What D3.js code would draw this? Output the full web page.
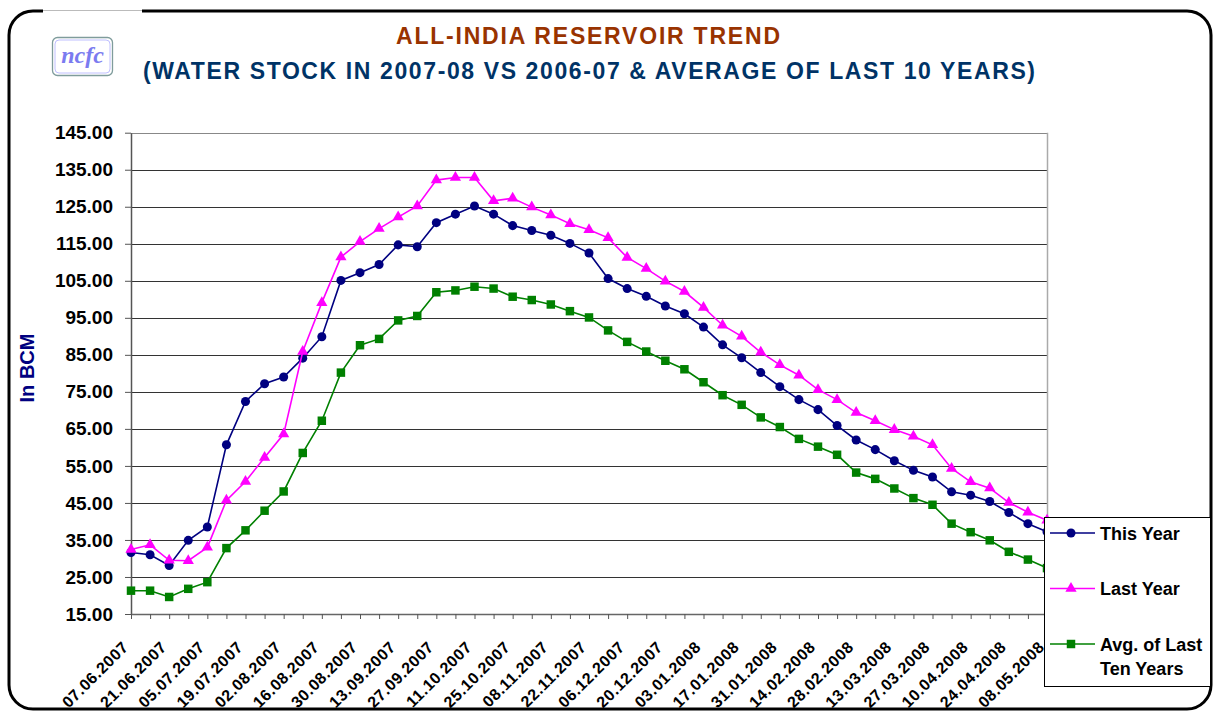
<!DOCTYPE html>
<html lang="en">
<head>
  <meta charset="utf-8">
  <title>All-India Reservoir Trend</title>
  <script type="text/javascript" src="https://cdn.jsdelivr.net/npm/d3@7"></script>
  <style>
    body { margin: 0; background: #fff; }
    svg { display: block; font-family: "Liberation Sans", Arial, sans-serif; }
  </style>
</head>
<body>
  <script type="text/javascript">

  // weekly dates (category axis)
  var dates = [
    "07.06.2007", "14.06.2007", "21.06.2007", "28.06.2007", "05.07.2007", "12.07.2007", "19.07.2007",
    "26.07.2007", "02.08.2007", "09.08.2007", "16.08.2007", "23.08.2007", "30.08.2007", "06.09.2007",
    "13.09.2007", "20.09.2007", "27.09.2007", "04.10.2007", "11.10.2007", "18.10.2007", "25.10.2007",
    "01.11.2007", "08.11.2007", "15.11.2007", "22.11.2007", "29.11.2007", "06.12.2007", "13.12.2007",
    "20.12.2007", "27.12.2007", "03.01.2008", "10.01.2008", "17.01.2008", "24.01.2008", "31.01.2008",
    "07.02.2008", "14.02.2008", "21.02.2008", "28.02.2008", "06.03.2008", "13.03.2008", "20.03.2008",
    "27.03.2008", "03.04.2008", "10.04.2008", "17.04.2008", "24.04.2008", "01.05.2008", "08.05.2008"
  ];

  // water stock in BCM
  var thisYear = [
    31.6, 31.0, 28.1, 34.9, 38.5, 60.7, 72.4, 77.2, 79.0, 84.1, 89.9, 105.1, 107.2, 109.4, 114.7, 114.2,
    120.7, 123.0, 125.2, 123.0, 119.9, 118.6, 117.3, 115.1, 112.5, 105.6, 102.9, 100.8, 98.2, 96.1,
    92.5, 87.7, 84.2, 80.2, 76.4, 72.9, 70.2, 65.9, 62.0, 59.4, 56.4, 53.8, 52.0, 48.0, 47.1, 45.4,
    42.4, 39.4, 37.2
  ];
  var lastYear = [
    32.4, 33.7, 29.5, 29.4, 33.0, 45.7, 50.8, 57.3, 63.6, 85.9, 99.1, 111.4, 115.6, 119.1, 122.2, 125.2,
    132.2, 132.9, 132.9, 126.6, 127.3, 124.9, 122.8, 120.4, 118.8, 116.6, 111.3, 108.3, 104.9, 102.1,
    97.8, 93.0, 90.0, 85.7, 82.3, 79.5, 75.6, 72.9, 69.4, 67.2, 64.8, 63.0, 60.7, 54.3, 50.7, 49.0,
    45.1, 42.5, 40.3
  ];
  var avgTenYears = [
    21.3, 21.3, 19.6, 21.8, 23.6, 32.8, 37.6, 42.9, 48.1, 58.5, 67.2, 80.2, 87.6, 89.3, 94.3, 95.5,
    101.9, 102.4, 103.4, 102.9, 100.7, 99.8, 98.6, 96.8, 95.1, 91.6, 88.5, 85.9, 83.4, 81.1,
    77.6, 74.1, 71.5, 68.1, 65.5, 62.3, 60.2, 58.0, 53.2, 51.5, 48.9, 46.3, 44.5, 39.4, 37.1, 34.9,
    31.8, 29.7, 27.4
  ];

  var yTicks = [15, 25, 35, 45, 55, 65, 75, 85, 95, 105, 115, 125, 135, 145];

  var series = [
    { name: ["This Year"], values: thisYear, color: "#000080", symbol: d3.symbolCircle, size: 64 },
    { name: ["Last Year"], values: lastYear, color: "#ff00ff", symbol: d3.symbolTriangle, size: 55 },
    { name: ["Avg. of Last", "Ten Years"], values: avgTenYears, color: "#008000", symbol: d3.symbolSquare, size: 72 }
  ];

  var width = 1219;
  var height = 711;
  var plot = { left: 131, right: 1047, top: 132.7, bottom: 614 };

  var svg = d3.select("body")
    .append("svg")
    .attr("width", width)
    .attr("height", height)
    .attr("viewBox", [0, 0, width, height]);

  // outer rounded frame
  svg.append("rect")
    .attr("x", 9).attr("y", 11)
    .attr("width", 1202).attr("height", 698)
    .attr("rx", 24)
    .attr("fill", "#fff")
    .attr("stroke", "#000")
    .attr("stroke-width", 3);

  // little gap in the top border above the logo
  svg.append("rect")
    .attr("x", 43).attr("y", 8).attr("width", 99).attr("height", 6)
    .attr("fill", "#fff");
  svg.append("line")
    .attr("x1", 43).attr("x2", 142).attr("y1", 10.5).attr("y2", 10.5)
    .attr("stroke", "#bbb");

  // logo
  svg.append("rect")
    .attr("x", 52.5).attr("y", 37.5).attr("width", 60).attr("height", 38).attr("rx", 5)
    .attr("fill", "#fff").attr("stroke", "#7f9c9c").attr("stroke-width", 1.3);
  svg.append("rect")
    .attr("x", 55).attr("y", 40).attr("width", 55).attr("height", 33).attr("rx", 4)
    .attr("fill", "none").attr("stroke", "#b0b0ff").attr("stroke-width", 0.8);
  svg.append("text")
    .attr("x", 82.5).attr("y", 63)
    .attr("text-anchor", "middle")
    .attr("font-family", "'Liberation Serif', 'DejaVu Serif', serif")
    .attr("font-style", "italic")
    .attr("font-weight", "bold")
    .attr("font-size", "24px")
    .attr("fill", "#7b7bf0")
    .text("ncfc");

  // titles
  svg.append("text")
    .attr("x", 396).attr("y", 43.5)
    .attr("font-size", "23px").attr("font-weight", "bold")
    .attr("fill", "#993300")
    .attr("textLength", 384).attr("lengthAdjust", "spacing")
    .text("ALL-INDIA RESERVOIR TREND");
  svg.append("text")
    .attr("x", 143).attr("y", 78.5)
    .attr("font-size", "23px").attr("font-weight", "bold")
    .attr("fill", "#003366")
    .attr("textLength", 892).attr("lengthAdjust", "spacing")
    .text("(WATER STOCK IN 2007-08 VS 2006-07 & AVERAGE OF LAST 10 YEARS)");

  var x = d3.scalePoint()
    .domain(dates)
    .range([plot.left, plot.right]);

  var y = d3.scaleLinear()
    .domain([15, 145])
    .range([plot.bottom, plot.top]);

  // horizontal gridlines
  svg.append("g")
    .selectAll("line")
    .data(yTicks.slice(1))
    .enter().append("line")
    .attr("x1", plot.left).attr("x2", plot.right)
    .attr("y1", d => Math.round(y(d)) + 0.5)
    .attr("y2", d => Math.round(y(d)) + 0.5)
    .attr("stroke", d => d == 145 ? "#888" : "#333")
    .attr("stroke-width", 1);

  // right edge of plot area
  svg.append("line")
    .attr("x1", plot.right + 0.5).attr("x2", plot.right + 0.5)
    .attr("y1", plot.top).attr("y2", plot.bottom)
    .attr("stroke", "#aaa").attr("stroke-width", 1.5);

  // y axis
  var yAxis = svg.append("g")
    .attr("transform", "translate(" + plot.left + ",0)")
    .call(d3.axisLeft(y)
      .tickValues(yTicks)
      .tickFormat(d3.format(".2f"))
      .tickSize(6)
      .tickSizeOuter(0)
      .tickPadding(12));
  yAxis.select(".domain").attr("stroke", "#555").attr("stroke-width", 1.5);
  yAxis.selectAll(".tick line").attr("stroke", "#555");
  yAxis.selectAll(".tick text")
    .attr("font-family", "'Liberation Sans', Arial, sans-serif")
    .attr("font-size", "19px")
    .attr("font-weight", "bold")
    .attr("fill", "#000");

  // x axis, labels every second week
  var xAxis = svg.append("g")
    .attr("transform", "translate(0," + plot.bottom + ")")
    .call(d3.axisBottom(x)
      .tickSize(5)
      .tickSizeOuter(0)
      .tickFormat((d, i) => i % 2 == 0 ? d : ""));
  xAxis.select(".domain").attr("stroke", "#666").attr("stroke-width", 1.5);
  xAxis.selectAll(".tick line").attr("stroke", "#555");
  xAxis.selectAll(".tick text")
    .attr("font-family", "'Liberation Sans', Arial, sans-serif")
    .attr("font-size", "16px")
    .attr("font-weight", "bold")
    .attr("letter-spacing", "0.6px")
    .attr("fill", "#000")
    .attr("text-anchor", "end")
    .attr("y", 0).attr("dy", 0)
    .attr("transform", "translate(-2,34) rotate(-45)");

  // y axis title
  svg.append("text")
    .attr("transform", "translate(34,368) rotate(-90)")
    .attr("text-anchor", "middle")
    .attr("font-size", "20px").attr("font-weight", "bold")
    .attr("fill", "#000080")
    .text("In BCM");

  // series lines and markers
  var line = d3.line()
    .x((d, i) => x(dates[i]))
    .y(d => y(d));

  series.forEach(function(s) {
    svg.append("path")
      .datum(s.values)
      .attr("fill", "none")
      .attr("stroke", s.color)
      .attr("stroke-width", 1.6)
      .attr("d", line);

    svg.append("g")
      .selectAll("path")
      .data(s.values)
      .enter().append("path")
      .attr("transform", (d, i) => "translate(" + x(dates[i]) + "," + y(d) + ")")
      .attr("d", d3.symbol().type(s.symbol).size(s.size))
      .attr("fill", s.color);
  });

  // legend
  var legend = svg.append("g");
  legend.append("rect")
    .attr("x", 1044.5).attr("y", 517.5)
    .attr("width", 166).attr("height", 169)
    .attr("fill", "#fff")
    .attr("stroke", "#000").attr("stroke-width", 1);

  var legendY = [533, 588.5, 644];
  series.forEach(function(s, k) {
    var ly = legendY[k];
    legend.append("line")
      .attr("x1", 1050).attr("x2", 1095)
      .attr("y1", ly).attr("y2", ly)
      .attr("stroke", s.color).attr("stroke-width", 1.6);
    legend.append("path")
      .attr("transform", "translate(1071," + ly + ")")
      .attr("d", d3.symbol().type(s.symbol).size(s.size))
      .attr("fill", s.color);
    var t = legend.append("text")
      .attr("x", 1100).attr("y", ly + 6.5)
      .attr("font-size", "18px").attr("font-weight", "bold")
      .attr("fill", "#000");
    s.name.forEach(function(part, j) {
      t.append("tspan")
        .attr("x", 1100)
        .attr("dy", j == 0 ? 0 : 24)
        .text(part);
    });
  });

  </script>
</body>
</html>
